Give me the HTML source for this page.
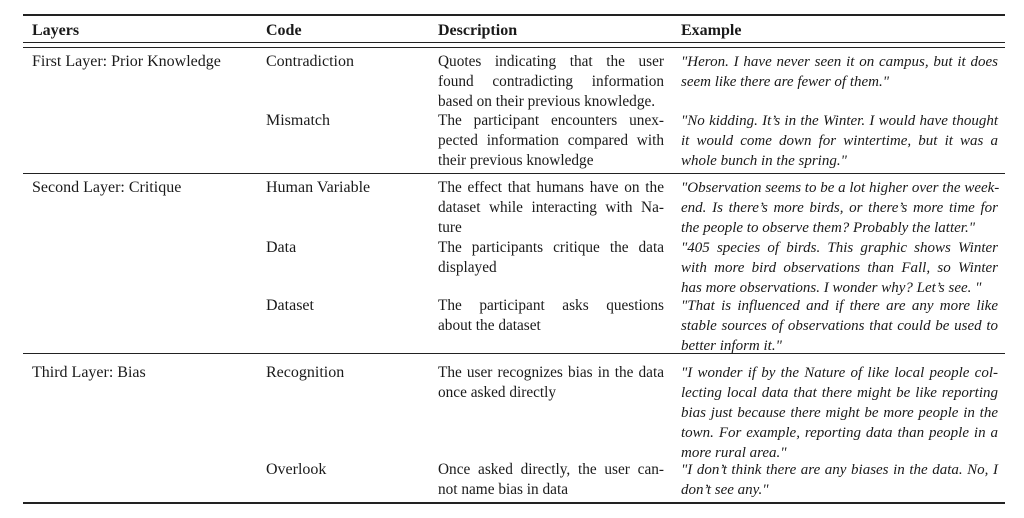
<!DOCTYPE html>
<html><head><meta charset="utf-8"><style>
body{margin:0;width:1024px;height:518px;background:#fff;position:relative;overflow:hidden;font-family:"Liberation Serif",serif;font-size:16px;color:#1a1a1a}
.l{position:absolute;line-height:20px;white-space:nowrap}
.d{position:absolute;left:438px;width:226px;line-height:20px;font-size:15.3px;white-space:nowrap}
.e{position:absolute;left:681px;width:317px;line-height:20px;font-style:italic;font-size:15px;white-space:nowrap}
.j{text-align:justify;text-align-last:justify;white-space:nowrap}
.r{position:absolute;left:23px;width:982px;background:#222}
b{font-weight:bold}
</style></head><body>
<div class="r" style="top:14px;height:2px"></div>
<div class="r" style="top:42px;height:1px"></div>
<div class="r" style="top:47px;height:1px"></div>
<div class="r" style="top:173px;height:1px"></div>
<div class="r" style="top:353px;height:1px"></div>
<div class="r" style="top:502px;height:2px"></div>

<div class="l" style="left:32px;top:21px"><b>Layers</b></div>
<div class="l" style="left:266px;top:21px"><b>Code</b></div>
<div class="l" style="left:438px;top:21px"><b>Description</b></div>
<div class="l" style="left:681px;top:21px"><b>Example</b></div>

<div class="l" style="left:32px;top:52px">First Layer: Prior Knowledge</div>
<div class="l" style="left:266px;top:52px">Contradiction</div>
<div class="d" style="top:52px"><div class="j">Quotes indicating that the user</div><div class="j">found contradicting information</div><div>based on their previous knowledge.</div></div>
<div class="e" style="top:52px"><div class="j">"Heron. I have never seen it on campus, but it does</div><div>seem like there are fewer of them."</div></div>

<div class="l" style="left:266px;top:111px">Mismatch</div>
<div class="d" style="top:111px"><div class="j">The participant encounters unex-</div><div class="j">pected information compared with</div><div>their previous knowledge</div></div>
<div class="e" style="top:111px"><div class="j">"No kidding. It’s in the Winter. I would have thought</div><div class="j">it would come down for wintertime, but it was a</div><div>whole bunch in the spring."</div></div>

<div class="l" style="left:32px;top:178px">Second Layer: Critique</div>
<div class="l" style="left:266px;top:178px">Human Variable</div>
<div class="d" style="top:178px"><div class="j">The effect that humans have on the</div><div class="j">dataset while interacting with Na-</div><div>ture</div></div>
<div class="e" style="top:178px"><div class="j">"Observation seems to be a lot higher over the week-</div><div class="j">end. Is there’s more birds, or there’s more time for</div><div>the people to observe them? Probably the latter."</div></div>

<div class="l" style="left:266px;top:238px">Data</div>
<div class="d" style="top:238px"><div class="j">The participants critique the data</div><div>displayed</div></div>
<div class="e" style="top:238px"><div class="j">"405 species of birds. This graphic shows Winter</div><div class="j">with more bird observations than Fall, so Winter</div><div>has more observations. I wonder why? Let’s see. "</div></div>

<div class="l" style="left:266px;top:296px">Dataset</div>
<div class="d" style="top:296px"><div class="j">The participant asks questions</div><div>about the dataset</div></div>
<div class="e" style="top:296px"><div class="j">"That is influenced and if there are any more like</div><div class="j">stable sources of observations that could be used to</div><div>better inform it."</div></div>

<div class="l" style="left:32px;top:363px">Third Layer: Bias</div>
<div class="l" style="left:266px;top:363px">Recognition</div>
<div class="d" style="top:363px"><div class="j">The user recognizes bias in the data</div><div>once asked directly</div></div>
<div class="e" style="top:363px"><div class="j">"I wonder if by the Nature of like local people col-</div><div class="j">lecting local data that there might be like reporting</div><div class="j">bias just because there might be more people in the</div><div class="j">town. For example, reporting data than people in a</div><div>more rural area."</div></div>

<div class="l" style="left:266px;top:460px">Overlook</div>
<div class="d" style="top:460px"><div class="j">Once asked directly, the user can-</div><div>not name bias in data</div></div>
<div class="e" style="top:460px"><div class="j">"I don’t think there are any biases in the data. No, I</div><div>don’t see any."</div></div>
</body></html>
